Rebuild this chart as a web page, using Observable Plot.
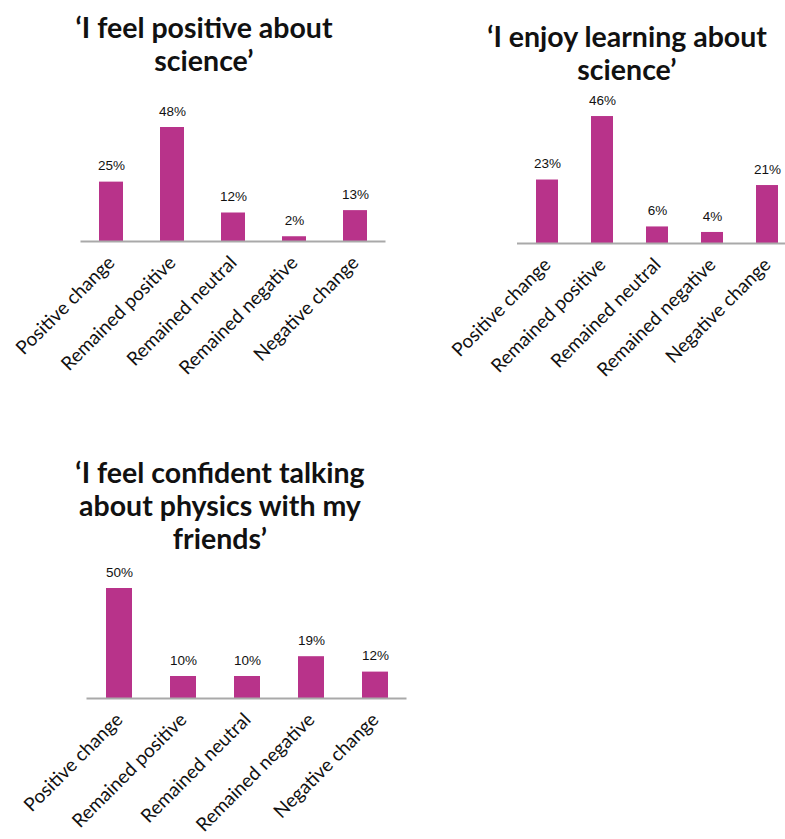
<!DOCTYPE html>
<html>
<head>
<meta charset="utf-8">
<script src="https://cdn.jsdelivr.net/npm/d3@7"></script>
<script src="https://cdn.jsdelivr.net/npm/@observablehq/plot@0.6"></script>
<style>
  html, body { margin: 0; padding: 0; background: #fff; overflow: hidden; }
  body { width: 785px; height: 839px; position: relative; }
  .panel { position: absolute; }
  .panel svg { max-width: none !important; }
  .title { position: absolute; text-align: center; font-family: Lato, sans-serif; font-weight: bold;
           font-size: 28.5px; line-height: 33px; color: #111; white-space: nowrap; }
</style>
</head>
<body>
<script>
const categories = ["Positive change", "Remained positive", "Remained neutral", "Remained negative", "Negative change"];
const positiveValues = [25, 48, 12, 2, 13];
const enjoyValues = [23, 46, 6, 4, 21];
const confidentValues = [50, 10, 10, 19, 12];
const titles = [
  ["‘I feel positive about", "science’"],
  ["‘I enjoy learning about", "science’"],
  ["‘I feel confident talking", "about physics with my", "friends’"]
];

const panels = [
  {values: positiveValues, title: titles[0], cx: 204, ty: 11,
   left: 0, top: 80, width: 400, marginLeft: 80.5, marginRight: 14.5, marginTop: 42.25, ymax: 50, plotH: 118.75, marginBottom: 160},
  {values: enjoyValues, title: titles[1], cx: 627, ty: 20,
   left: 400, top: 80, width: 400, marginLeft: 117, marginRight: 4, marginTop: 25, ymax: 50, plotH: 138, marginBottom: 160},
  {values: confidentValues, title: titles[2], cx: 220, ty: 456,
   left: 0, top: 550, width: 420, marginLeft: 86.5, marginRight: 13.5, marginTop: 27, ymax: 55, plotH: 121, marginBottom: 141}
];

for (const p of panels) {
  const data = categories.map((c, i) => ({category: c, value: p.values[i]}));
  const chart = Plot.plot({
    width: p.width,
    height: p.marginTop + p.plotH + p.marginBottom,
    marginLeft: p.marginLeft,
    marginRight: p.marginRight,
    marginTop: p.marginTop,
    marginBottom: p.marginBottom,
    style: {fontFamily: "Lato, sans-serif", fontSize: "19px", color: "#111", background: "transparent", overflow: "visible", maxWidth: "none"},
    x: {domain: categories, paddingInner: 0.6, paddingOuter: 0.3, label: null},
    y: {domain: [0, p.ymax], axis: null},
    marks: [
      Plot.barY(data, {x: "category", y: "value", fill: "#b8338a"}),
      Plot.ruleY([0], {stroke: "#a9a9a9", strokeWidth: 2}),
      Plot.text(data, {x: "category", y: "value", text: d => d.value + "%", dy: -16,
        fontFamily: "Liberation Sans, sans-serif", fontSize: 13.5, fill: "#111"}),
      Plot.axisX({tickRotate: -45, tickSize: 0, tickPadding: 18, fontSize: 19, label: null, fill: "#111"})
    ]
  });
  const wrap = document.createElement("div");
  wrap.className = "panel";
  wrap.style.left = p.left + "px";
  wrap.style.top = p.top + "px";
  wrap.style.width = p.width + "px";
  wrap.appendChild(chart);
  document.body.appendChild(wrap);

  const t = document.createElement("div");
  t.className = "title";
  t.style.left = (p.cx - 200) + "px";
  t.style.width = "400px";
  t.style.top = p.ty + "px";
  t.innerHTML = p.title.join("<br>");
  document.body.appendChild(t);
}
</script>
</body>
</html>
